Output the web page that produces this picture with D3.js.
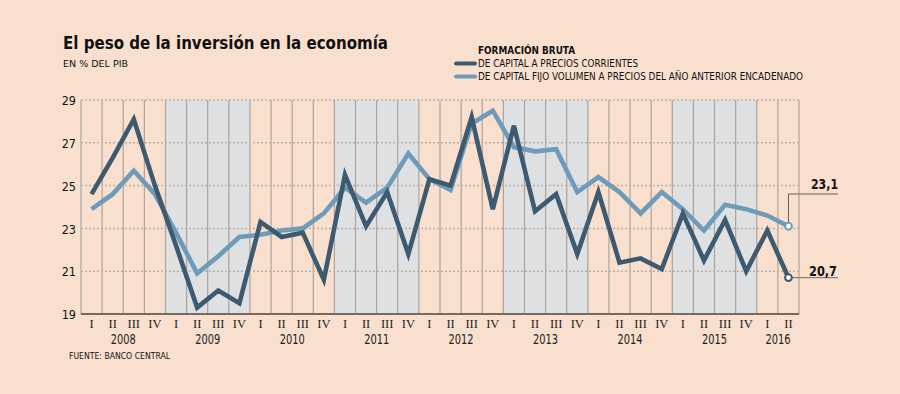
<!DOCTYPE html>
<html><head><meta charset="utf-8">
<script src="https://cdn.jsdelivr.net/npm/d3@7"></script>
<style>
html,body{margin:0;padding:0;background:#f9e0ce;}
svg{display:block;}
</style></head>
<body>
<svg id="c" width="900" height="394" font-family="'DejaVu Sans Condensed','DejaVu Sans',sans-serif"></svg>
<script>
const years = ["2008","2009","2010","2011","2012","2013","2014","2015","2016"];
const quarterNames = ["I","II","III","IV"];
const quarters = [];
years.forEach(y => { const n = y === "2016" ? 2 : 4; for (let q = 0; q < n; q++) quarters.push({year: y, q: quarterNames[q]}); });
const yTicks = [19, 21, 23, 25, 27, 29];
const shadedYears = ["2009","2011","2013","2015"];
const corrientes = [24.6, 26.3, 28.1, 25.0, 22.2, 19.3, 20.1, 19.5, 23.3, 22.6, 22.8, 20.6, 25.5, 23.1, 24.7, 21.8, 25.3, 25.0, 28.2, 23.9, 27.8, 23.8, 24.6, 21.8, 24.7, 21.4, 21.6, 21.1, 23.7, 21.5, 23.4, 21.0, 22.9, 20.7];
const fijo = [23.9, 24.6, 25.7, 24.6, 22.8, 20.9, 21.7, 22.6, 22.7, 22.9, 23.0, 23.7, 24.9, 24.2, 24.9, 26.5, 25.3, 24.8, 27.9, 28.5, 26.8, 26.6, 26.7, 24.7, 25.4, 24.7, 23.7, 24.7, 23.9, 22.9, 24.1, 23.9, 23.6, 23.1];
const lastLabels = ["20,7", "23,1"];

(function () {
const sans = "'DejaVu Sans Condensed','DejaVu Sans',sans-serif";
const serif = "'Liberation Serif','DejaVu Serif',serif";
const svg = d3.select("#c");
const W = 900, H = 394;
const pL = 81, pR = 799, pT = 100, pB = 314;
const darkC = "#3e5a70", lightC = "#6f9bbb";

svg.append("rect").attr("width", W).attr("height", H).attr("fill", "#f9e0ce");

const x = d3.scaleBand().domain(d3.range(quarters.length)).range([pL, pR]).padding(0);
const y = d3.scaleLinear().domain([19, 29]).range([pB, pT]);
const cx = i => x(i) + x.bandwidth() / 2;

// shaded years
shadedYears.forEach(yr => {
  const idx = quarters.map((d, i) => d.year === yr ? i : -1).filter(i => i >= 0);
  const x0 = x(idx[0]), x1 = x(idx[idx.length - 1]) + x.bandwidth();
  svg.append("rect").attr("x", x0).attr("y", pT).attr("width", x1 - x0).attr("height", pB - pT).attr("fill", "#dfe0e2");
});

// vertical lines
const vlines = d3.range(quarters.length + 1).map(i => i < quarters.length ? x(i) : pR);
svg.append("g").selectAll("line").data(vlines).join("line")
  .attr("x1", d => d).attr("x2", d => d).attr("y1", pT).attr("y2", pB)
  .attr("stroke", "#a9a39e").attr("stroke-width", 1.2);

// horizontal dotted gridlines
svg.append("g").selectAll("line").data(yTicks.filter(t => t > 19)).join("line")
  .attr("x1", pL).attr("x2", pR).attr("y1", d => y(d)).attr("y2", d => y(d))
  .attr("stroke", "#b8b0aa").attr("stroke-width", 1.5).attr("stroke-dasharray", "2,2");

// base axis line
svg.append("line").attr("x1", pL).attr("x2", pR).attr("y1", y(19)).attr("y2", y(19))
  .attr("stroke", "#76695f").attr("stroke-width", 2);

// y axis labels
const yAxis = svg.append("g").attr("transform", `translate(${pL - 3},0)`)
  .call(d3.axisLeft(y).tickValues(yTicks).tickSize(0).tickPadding(2));
yAxis.select(".domain").remove();
yAxis.selectAll("text").style("font-family", sans)
  .style("font-size", "12.5px").attr("fill", "#111").attr("dy", "0.38em");

// x axis roman numerals
const xAxis = svg.append("g").attr("transform", `translate(0,${pB})`)
  .call(d3.axisBottom(x).tickSize(0).tickPadding(0).tickFormat(i => quarters[i].q));
xAxis.select(".domain").remove();
xAxis.selectAll("text").style("font-family", serif)
  .style("font-size", "12.5px").attr("fill", "#222").attr("dy", null).attr("y", 14);

// year labels
years.forEach(yr => {
  const idx = quarters.map((d, i) => d.year === yr ? i : -1).filter(i => i >= 0);
  const mid = (x(idx[0]) + x(idx[idx.length - 1]) + x.bandwidth()) / 2;
  svg.append("text").attr("x", mid).attr("y", 343.5).attr("text-anchor", "middle")
    .style("font-family", sans).style("font-size", "14px").attr("textLength", 25).attr("lengthAdjust", "spacingAndGlyphs")
    .attr("fill", "#222").text(yr);
});

// lines
const line = d3.line().x((d, i) => cx(i)).y(d => y(d));
svg.append("path").datum(fijo).attr("d", line).attr("fill", "none")
  .attr("stroke", lightC).attr("stroke-width", 4.6).attr("stroke-linejoin", "miter");
svg.append("path").datum(corrientes).attr("d", line).attr("fill", "none")
  .attr("stroke", darkC).attr("stroke-width", 4.6).attr("stroke-linejoin", "miter");

// end annotations
const li = quarters.length - 1;
const ex = cx(li);
svg.append("path").attr("d", `M${ex},${y(fijo[li]) - 4}V194H838`).attr("fill", "none").attr("stroke", "#6a5d55").attr("stroke-width", 1);
svg.append("path").attr("d", `M${ex},${y(corrientes[li])}H838`).attr("fill", "none").attr("stroke", "#8a7d74").attr("stroke-width", 1.2);
[[fijo, lightC], [corrientes, darkC]].forEach(([s, c]) => {
  svg.append("circle").attr("cx", ex).attr("cy", y(s[li])).attr("r", 3.4)
    .attr("fill", "#fff").attr("stroke", c).attr("stroke-width", 2);
});
svg.append("text").attr("x", 838).attr("y", 188.5).attr("text-anchor", "end").attr("font-weight", "bold")
  .style("font-family", sans).style("font-size", "14.5px").attr("textLength", 27).attr("lengthAdjust", "spacingAndGlyphs").attr("fill", "#111").text(lastLabels[1]);
svg.append("text").attr("x", 837).attr("y", 275.5).attr("text-anchor", "end").attr("font-weight", "bold")
  .style("font-family", sans).style("font-size", "14.5px").attr("textLength", 28).attr("lengthAdjust", "spacingAndGlyphs").attr("fill", "#111").text(lastLabels[0]);

// title
svg.append("text").attr("x", 63).attr("y", 49.3).attr("font-weight", "bold").style("font-family", sans).style("font-size", "18.5px")
  .attr("textLength", 325).attr("lengthAdjust", "spacingAndGlyphs").attr("fill", "#111").text("El peso de la inversión en la economía");
svg.append("text").attr("x", 63).attr("y", 66.7).style("font-family", sans).style("font-size", "9.3px")
  .attr("textLength", 65).attr("lengthAdjust", "spacingAndGlyphs").attr("fill", "#111").text("EN % DEL PIB");

// legend
svg.append("text").attr("x", 478).attr("y", 54).attr("font-weight", "bold").style("font-family", sans).style("font-size", "9.8px")
  .attr("textLength", 97).attr("lengthAdjust", "spacingAndGlyphs").attr("fill", "#111").text("FORMACIÓN BRUTA");
svg.append("text").attr("x", 478).attr("y", 67).style("font-family", sans).style("font-size", "9.8px")
  .attr("textLength", 160).attr("lengthAdjust", "spacingAndGlyphs").attr("fill", "#111").text("DE CAPITAL A PRECIOS CORRIENTES");
svg.append("text").attr("x", 478).attr("y", 80.3).style("font-family", sans).style("font-size", "9.8px")
  .attr("textLength", 325).attr("lengthAdjust", "spacingAndGlyphs").attr("fill", "#111").text("DE CAPITAL FIJO VOLUMEN A PRECIOS DEL AÑO ANTERIOR ENCADENADO");
svg.append("line").attr("x1", 456).attr("x2", 475).attr("y1", 63.5).attr("y2", 63.5)
  .attr("stroke", darkC).attr("stroke-width", 4).attr("stroke-linecap", "round");
svg.append("line").attr("x1", 456).attr("x2", 475).attr("y1", 76.5).attr("y2", 76.5)
  .attr("stroke", lightC).attr("stroke-width", 4).attr("stroke-linecap", "round");

// source
svg.append("text").attr("x", 69).attr("y", 359).style("font-family", sans).style("font-size", "9.3px")
  .attr("textLength", 101).attr("lengthAdjust", "spacingAndGlyphs").attr("fill", "#111").text("FUENTE: BANCO CENTRAL");
})();
</script>
</body></html>
